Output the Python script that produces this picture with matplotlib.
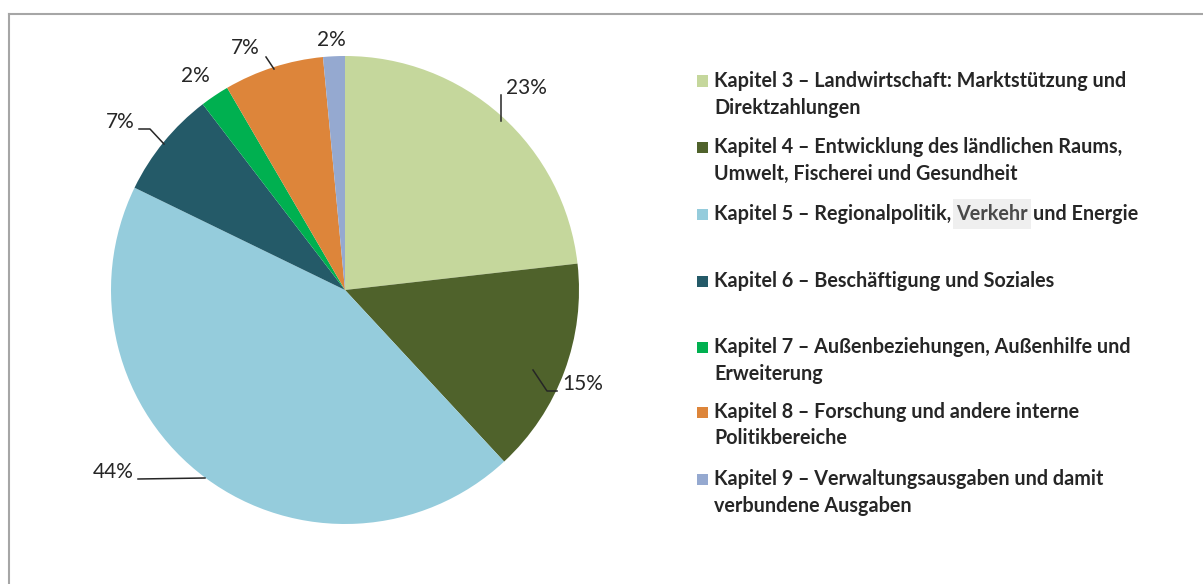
import matplotlib
matplotlib.use("Agg")
import matplotlib.pyplot as plt
from matplotlib.patches import Rectangle
from matplotlib.lines import Line2D

categories = [
    "Kapitel 3 – Landwirtschaft: Marktstützung und\nDirektzahlungen",
    "Kapitel 4 – Entwicklung des ländlichen Raums,\nUmwelt, Fischerei und Gesundheit",
    "Kapitel 5 – Regionalpolitik, Verkehr und Energie",
    "Kapitel 6 – Beschäftigung und Soziales",
    "Kapitel 7 – Außenbeziehungen, Außenhilfe und\nErweiterung",
    "Kapitel 8 – Forschung und andere interne\nPolitikbereiche",
    "Kapitel 9 – Verwaltungsausgaben und damit\nverbundene Ausgaben",
]
shares = [23.2, 14.9, 44.1, 7.4, 2.0, 6.9, 1.5]
colors = ["#c5d79c", "#4f622b", "#95ccdc", "#245a68", "#00b050", "#dd853a", "#95a9d0"]

W, H = 1203, 584
fig = plt.figure(figsize=(W / 100, H / 100), dpi=100)
FONT = "Lato"
TXT = "#262626"

# border (top and left only visible)
fig.add_artist(Line2D([8.5 / W, 8.5 / W], [0, 1 - 13.5 / H], transform=fig.transFigure,
                      color="#a6a6a6", lw=1.5))
fig.add_artist(Line2D([8.5 / W, 1], [1 - 13.5 / H, 1 - 13.5 / H], transform=fig.transFigure,
                      color="#a6a6a6", lw=1.5))

cx, cy, R = 345, 290, 234
ax = fig.add_axes([(cx - R) / W, (H - cy - R) / H, 2 * R / W, 2 * R / H])
ax.pie(shares, colors=colors, startangle=90, counterclock=False, radius=1.0,
       wedgeprops=dict(linewidth=0))
ax.set_xlim(-1, 1)
ax.set_ylim(-1, 1)
ax.set_aspect("equal")
ax.axis("off")


def d(px, py):
    return ((px - cx) / R, (cy - py) / R)


pct = ["{:.0f}%".format(v) for v in shares]
# label positions (pixel coords of text anchor) and leader polylines
label_pos = [(506, 88, "left"), (562, 384, "left"), (134, 472, "right"), (135, 122, "right"),
             (210, 76, "right"), (260, 48, "right"), (346, 40, "right")]
leaders = [
    [(501, 95), (501, 121)],
    [(533, 370), (547, 391), (557, 391)],
    [(138, 479), (205, 478)],
    [(139, 129), (150, 129), (164, 144)],
    None,
    [(266, 57), (274, 69)],
    None,
]
for txt, (px, py, ha), ld in zip(pct, label_pos, leaders):
    x, y = d(px, py)
    ax.text(x, y, txt, ha=ha, va="center", fontsize=15, family=FONT, color=TXT, clip_on=False)
    if ld:
        xs = [d(p[0], p[1])[0] for p in ld]
        ys = [d(p[0], p[1])[1] for p in ld]
        ax.add_line(Line2D(xs, ys, color="#262626", lw=1.1, clip_on=False))

# legend drawn manually
row_y = [81, 147, 214, 281, 347, 412, 479]
line_h = 26.5
fs = 14.2
for cat, col, y0 in zip(categories, colors, row_y):
    fig.add_artist(Rectangle((697 / W, 1 - (y0 + 5.5) / H), 11 / W, 11 / H,
                             transform=fig.transFigure, facecolor=col, edgecolor="none"))
    lines = cat.split("\n")
    for i, ln in enumerate(lines):
        yy = 1 - (y0 + i * line_h) / H
        if "Verkehr" in ln:
            pre, post = ln.split("Verkehr")
            t1 = fig.text(714 / W, yy, pre, ha="left", va="center", fontsize=fs,
                          family=FONT, weight="bold", color=TXT)
            fig.canvas.draw()
            r = fig.canvas.get_renderer()
            bb = t1.get_window_extent(r)
            x2 = bb.x1
            t2 = fig.text(x2 / W, yy, "Verkehr", ha="left", va="center", fontsize=fs,
                          family=FONT, weight="bold", color="#4a4a4a")
            bb2 = t2.get_window_extent(r)
            fig.add_artist(Rectangle(((bb2.x0 - 3) / W, yy - 15 / H), (bb2.width + 6) / W, 30 / H,
                                     transform=fig.transFigure, facecolor="#efefef",
                                     edgecolor="none", zorder=0))
            fig.text((bb2.x1 + 5) / W, yy, post.lstrip(), ha="left", va="center", fontsize=fs,
                     family=FONT, weight="bold", color=TXT)
        else:
            fig.text(714 / W, yy, ln, ha="left", va="center", fontsize=fs,
                     family=FONT, weight="bold", color=TXT)

fig.savefig("out.png", dpi=100)
